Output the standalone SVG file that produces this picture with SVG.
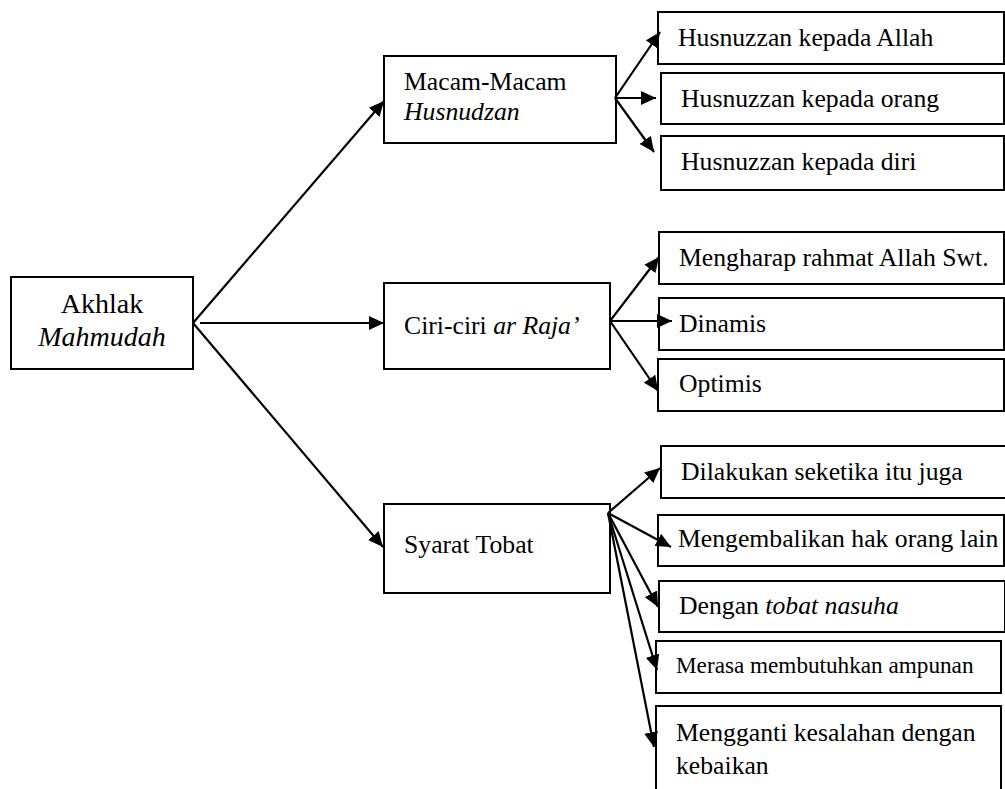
<svg xmlns="http://www.w3.org/2000/svg" width="1005" height="789" viewBox="0 0 1005 789">
<style>
.box{fill:#fff;stroke:#000;stroke-width:2}
.t{font-family:"Liberation Serif","Times New Roman",serif;font-size:25.7px;fill:#000}
.r{font-size:28px}
.s{font-size:23.2px}
.i{font-style:italic}
.c{stroke:#000;stroke-width:2.2;fill:none;marker-end:url(#ah)}
</style>
<defs>
<marker id="ah" markerUnits="userSpaceOnUse" markerWidth="16" markerHeight="14" refX="15" refY="7" orient="auto">
<path d="M0,0 L15,7 L0,14 z" fill="#000"/>
</marker>
</defs>
<rect width="1005" height="789" fill="#fff"/>
<g id="n-akhlak">
<rect class="box" x="11" y="277" width="182" height="92"/>
<text class="t r" x="102" y="313" text-anchor="middle">Akhlak</text>
<text class="t r i" x="102" y="346" text-anchor="middle">Mahmudah</text>
</g>
<g id="n-macam">
<rect class="box" x="384" y="56" width="232" height="87"/>
<text class="t" x="404" y="90">Macam-Macam</text>
<text class="t i" x="404" y="120">Husnudzan</text>
</g>
<g id="n-ciri">
<rect class="box" x="384" y="283" width="226" height="86"/>
<text class="t" x="404" y="334">Ciri-ciri <tspan class="i">ar Raja’</tspan></text>
</g>
<g id="n-syarat">
<rect class="box" x="384" y="504" width="226" height="89"/>
<text class="t" x="404" y="553">Syarat Tobat</text>
</g>
<g id="n-h1">
<rect class="box" x="658" y="12" width="346" height="52"/>
<text class="t" x="678" y="46">Husnuzzan kepada Allah</text>
</g>
<g id="n-h2">
<rect class="box" x="661" y="73" width="343" height="51"/>
<text class="t" x="681" y="107">Husnuzzan kepada orang</text>
</g>
<g id="n-h3">
<rect class="box" x="661" y="136" width="343" height="54"/>
<text class="t" x="681" y="170">Husnuzzan kepada diri</text>
</g>
<g id="n-r1">
<rect class="box" x="659" y="232" width="345" height="52"/>
<text class="t" x="679" y="266">Mengharap rahmat Allah Swt.</text>
</g>
<g id="n-r2">
<rect class="box" x="659" y="298" width="345" height="52"/>
<text class="t" x="679" y="332">Dinamis</text>
</g>
<g id="n-r3">
<rect class="box" x="658" y="359" width="346" height="52"/>
<text class="t" x="679" y="392">Optimis</text>
</g>
<g id="n-t1">
<rect class="box" x="661" y="446" width="346" height="52"/>
<text class="t" x="681" y="480">Dilakukan seketika itu juga</text>
</g>
<g id="n-t2">
<rect class="box" x="658" y="515" width="346" height="51"/>
<text class="t" x="678" y="547">Mengembalikan hak orang lain</text>
</g>
<g id="n-t3">
<rect class="box" x="659" y="581" width="346" height="51"/>
<text class="t" x="679" y="614">Dengan <tspan class="i">tobat nasuha</tspan></text>
</g>
<g id="n-t4">
<rect class="box" x="656" y="641" width="345" height="52"/>
<text class="t s" x="676" y="673">Merasa membutuhkan ampunan</text>
</g>
<g id="n-t5">
<rect class="box" x="656" y="706" width="345" height="100"/>
<text class="t" x="676" y="741">Mengganti kesalahan dengan</text>
<text class="t" x="676" y="774">kebaikan</text>
</g>
<g id="connectors">
<line class="c" x1="193" y1="323" x2="384" y2="101"/>
<line class="c" x1="200" y1="323" x2="384" y2="323"/>
<line class="c" x1="193" y1="323" x2="383" y2="547"/>
<line class="c" x1="615" y1="98" x2="660" y2="32"/>
<line class="c" x1="615" y1="98" x2="656" y2="98"/>
<line class="c" x1="615" y1="98" x2="654" y2="152"/>
<line class="c" x1="610" y1="321" x2="659" y2="257"/>
<line class="c" x1="610" y1="321" x2="672" y2="321"/>
<line class="c" x1="610" y1="321" x2="658" y2="391"/>
<line class="c" x1="608" y1="513" x2="660" y2="468"/>
<line class="c" x1="608" y1="513" x2="671" y2="547"/>
<line class="c" x1="608" y1="513" x2="658" y2="607"/>
<line class="c" x1="608" y1="513" x2="657" y2="670"/>
<line class="c" x1="608" y1="513" x2="654" y2="747"/>
</g>
</svg>
